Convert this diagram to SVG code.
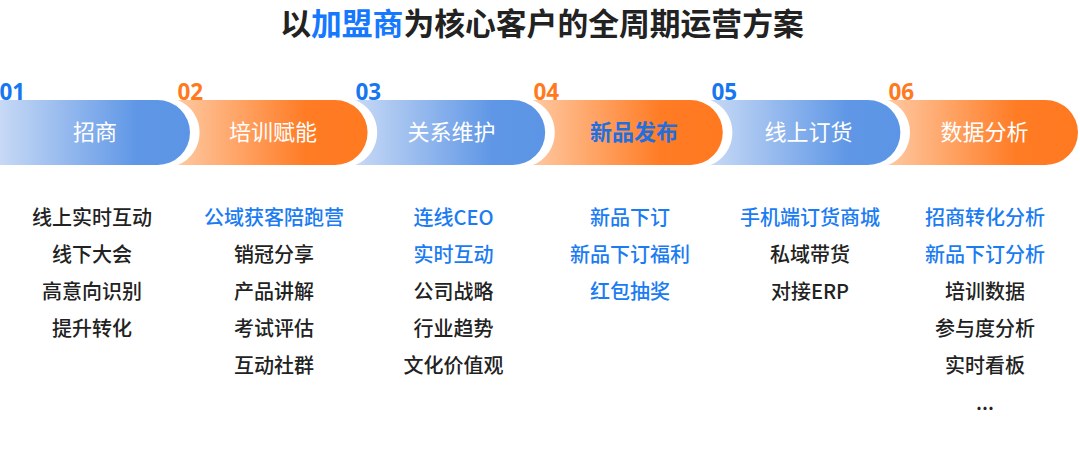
<svg xmlns="http://www.w3.org/2000/svg" width="1080" height="463" viewBox="0 0 1080 463">
<defs>
<linearGradient id="gb" x1="0" y1="0" x2="1" y2="0">
<stop offset="0" stop-color="#c7d9f5"/>
<stop offset="0.72" stop-color="#5f97e6"/>
<stop offset="1" stop-color="#5d95e6"/>
</linearGradient>
<linearGradient id="go" x1="0" y1="0" x2="1" y2="0">
<stop offset="0" stop-color="#fec8a0"/>
<stop offset="0.68" stop-color="#ff7b24"/>
<stop offset="1" stop-color="#ff7920"/>
</linearGradient>
<style>
.t{font-family:"Noto Sans CJK SC","Noto Sans",sans-serif;}
.title{font-size:30.8px;font-weight:bold;fill:#222;text-anchor:middle;}
.num{font-family:"Noto Sans","Liberation Sans",sans-serif;font-size:22.5px;font-weight:bold;}
.nb{fill:#1677f0;}
.no{fill:#ff7a1f;}
.lab{font-size:22px;fill:#fff;text-anchor:middle;}
.li{font-size:20px;fill:#222;text-anchor:middle;font-weight:500;}
.bl{fill:#1b7cf2;}
</style>
</defs>
<rect width="1080" height="463" fill="#fff"/>
<text class="t title" x="542" y="35">以<tspan fill="#1677ff">加盟商</tspan>为核心客户的全周期运营方案</text>

<g id="step1">
<path d="M0,100 H157.5 A32.5 32.5 0 0 1 157.5,165 H0 Z" fill="url(#gb)"/>
<text class="num nb" x="-0.5" y="99.5">01</text>
<text class="t lab" x="95" y="140">招商</text>
<text class="t li" x="92" y="225">线上实时互动</text>
<text class="t li" x="92" y="262">线下大会</text>
<text class="t li" x="92" y="299">高意向识别</text>
<text class="t li" x="92" y="336">提升转化</text>
</g>
<g id="step2">
<path d="M177.6,100 H335.1 A32.5 32.5 0 0 1 335.1,165 H177.6 A35 35 0 0 0 177.6,100 Z" fill="url(#go)"/>
<text class="num no" x="177.5" y="99.5">02</text>
<text class="t lab" x="273" y="140">培训赋能</text>
<text class="t li bl" x="274" y="225">公域获客陪跑营</text>
<text class="t li" x="274" y="262">销冠分享</text>
<text class="t li" x="274" y="299">产品讲解</text>
<text class="t li" x="274" y="336">考试评估</text>
<text class="t li" x="274" y="373">互动社群</text>
</g>
<g id="step3">
<path d="M355.2,100 H512.7 A32.5 32.5 0 0 1 512.7,165 H355.2 A35 35 0 0 0 355.2,100 Z" fill="url(#gb)"/>
<text class="num nb" x="355.5" y="99.5">03</text>
<text class="t lab" x="451.5" y="140">关系维护</text>
<text class="t li bl" x="453.5" y="225">连线CEO</text>
<text class="t li bl" x="453.5" y="262">实时互动</text>
<text class="t li" x="453.5" y="299">公司战略</text>
<text class="t li" x="453.5" y="336">行业趋势</text>
<text class="t li" x="453.5" y="373">文化价值观</text>
</g>
<g id="step4">
<path d="M532.8,100 H690.3 A32.5 32.5 0 0 1 690.3,165 H532.8 A35 35 0 0 0 532.8,100 Z" fill="url(#go)"/>
<text class="num no" x="533.5" y="99.5">04</text>
<text class="t lab" x="634" y="140" style="fill:#1f6fe0;font-weight:bold">新品发布</text>
<text class="t li bl" x="630" y="225">新品下订</text>
<text class="t li bl" x="630" y="262">新品下订福利</text>
<text class="t li bl" x="630" y="299">红包抽奖</text>
</g>
<g id="step5">
<path d="M710.4,100 H867.9 A32.5 32.5 0 0 1 867.9,165 H710.4 A35 35 0 0 0 710.4,100 Z" fill="url(#gb)"/>
<text class="num nb" x="711.5" y="99.5">05</text>
<text class="t lab" x="808.5" y="140">线上订货</text>
<text class="t li bl" x="810" y="225">手机端订货商城</text>
<text class="t li" x="810" y="262">私域带货</text>
<text class="t li" x="810" y="299">对接ERP</text>
</g>
<g id="step6">
<path d="M888,100 H1045.5 A32.5 32.5 0 0 1 1045.5,165 H888 A35 35 0 0 0 888,100 Z" fill="url(#go)"/>
<text class="num no" x="888.5" y="99.5">06</text>
<text class="t lab" x="984.5" y="140">数据分析</text>
<text class="t li bl" x="985" y="225">招商转化分析</text>
<text class="t li bl" x="985" y="262">新品下订分析</text>
<text class="t li" x="985" y="299">培训数据</text>
<text class="t li" x="985" y="336">参与度分析</text>
<text class="t li" x="985" y="373">实时看板</text>
<text class="t li" x="985" y="410">...</text>
</g>
<g id="connectors"></g>
</svg>
